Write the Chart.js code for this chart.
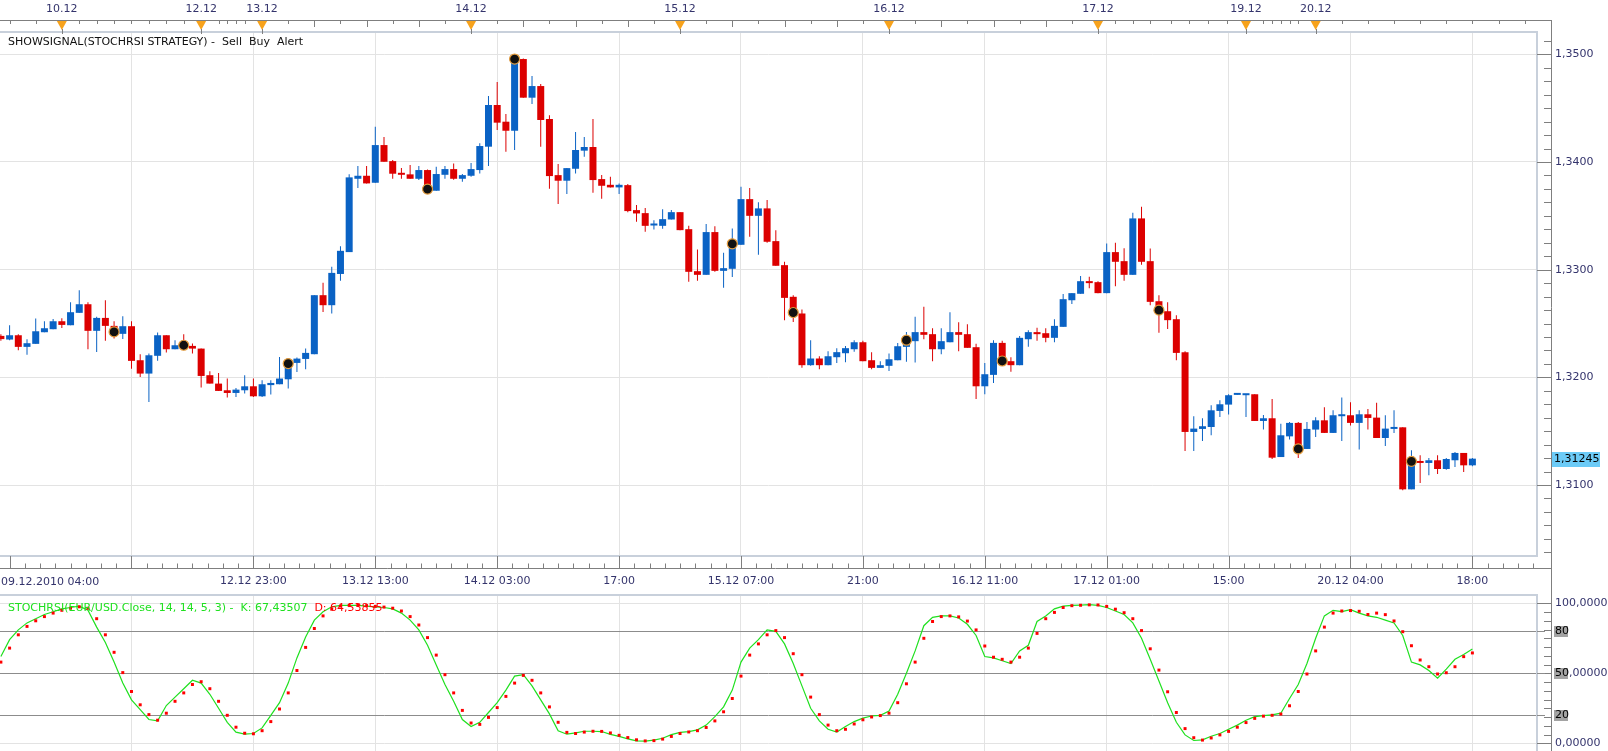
<!DOCTYPE html>
<html>
<head>
<meta charset="utf-8">
<script src="https://cdn.jsdelivr.net/npm/chart.js@4.4.1/dist/chart.umd.min.js"></script>
<style>
html, body { margin: 0; padding: 0; background: #fff; overflow: hidden; width: 1608px; height: 751px; }
#wrap { position: relative; width: 1608px; height: 751px; }
canvas { position: absolute; left: 0; }
#price { top: 0; }
#osc { top: 575px; }
</style>
</head>
<body>
<div id="wrap">
  <canvas id="price" width="1608" height="595"></canvas>
  <canvas id="osc" width="1608" height="190"></canvas>
</div>
<script>
// hourly EUR/USD candles, 170 bars, index 0 = first visible bar
var open = [
  1.32385,1.32351,1.32391,1.32283,1.32311,1.32419,1.32447,1.32521,1.32484,1.32599,
  1.32679,1.32432,1.32552,1.32478,1.32404,1.32475,1.32159,1.32035,1.32200,1.32391,
  1.32261,1.32298,1.32292,1.32267,1.32020,1.31942,1.31880,1.31855,1.31880,1.31917,
  1.31824,1.31928,1.31936,1.31982,1.32134,1.32171,1.32215,1.32763,1.32670,1.32960,
  1.33163,1.33844,1.33872,1.33807,1.34157,1.34008,1.33897,1.33885,1.33844,1.33925,
  1.33733,1.33881,1.33934,1.33844,1.33872,1.33925,1.34142,1.34529,1.34374,1.34290,
  1.34956,1.34597,1.34705,1.34399,1.33878,1.33826,1.33937,1.34105,1.34139,1.33841,
  1.33788,1.33764,1.33785,1.33553,1.33525,1.33410,1.33407,1.33466,1.33534,1.33376,
  1.32986,1.32952,1.33349,1.32989,1.33008,1.33231,1.33655,1.33500,1.33569,1.33265,
  1.33042,1.32748,1.32593,1.32113,1.32175,1.32113,1.32187,1.32224,1.32261,1.32326,
  1.32159,1.32088,1.32107,1.32159,1.32283,1.32336,1.32420,1.32401,1.32261,1.32326,
  1.32420,1.32401,1.32280,1.31917,1.32023,1.32320,1.32150,1.32113,1.32354,1.32420,
  1.32410,1.32367,1.32469,1.32716,1.32776,1.32893,1.32884,1.32782,1.33163,1.33079,
  1.32952,1.33476,1.33079,1.32707,1.32614,1.32540,1.32233,1.31493,1.31521,1.31539,
  1.31688,1.31747,1.31837,1.31834,1.31843,1.31595,1.31620,1.31260,1.31452,1.31577,
  1.31335,1.31515,1.31601,1.31484,1.31639,1.31648,1.31577,1.31657,1.31626,1.31437,
  1.31521,1.31536,1.30960,1.31218,1.31205,1.31230,1.31149,1.31230,1.31298,1.31183
];
var high = [
  1.32400,1.32484,1.32401,1.32354,1.32546,1.32521,1.32543,1.32549,1.32698,1.32809,
  1.32698,1.32562,1.32717,1.32521,1.32568,1.32521,1.32215,1.32221,1.32416,1.32391,
  1.32345,1.32401,1.32314,1.32267,1.32057,1.32041,1.31989,1.31902,1.32020,1.31989,
  1.31973,1.31973,1.32190,1.32150,1.32184,1.32267,1.32763,1.32878,1.33026,1.33218,
  1.33885,1.33962,1.33962,1.34328,1.34231,1.34018,1.33943,1.33971,1.33962,1.33931,
  1.33956,1.33962,1.33987,1.33888,1.33990,1.34173,1.34613,1.34743,1.34445,1.34978,
  1.34960,1.34798,1.34724,1.34433,1.33981,1.33943,1.34278,1.34231,1.34399,1.33878,
  1.33863,1.33801,1.33795,1.33600,1.33572,1.33460,1.33562,1.33553,1.33534,1.33407,
  1.33187,1.33423,1.33404,1.33156,1.33383,1.33770,1.33758,1.33625,1.33646,1.33367,
  1.33073,1.32763,1.32630,1.32345,1.32196,1.32243,1.32271,1.32292,1.32345,1.32339,
  1.32234,1.32150,1.32221,1.32320,1.32420,1.32562,1.32655,1.32456,1.32456,1.32605,
  1.32512,1.32494,1.32311,1.32134,1.32345,1.32339,1.32187,1.32385,1.32438,1.32460,
  1.32456,1.32540,1.32773,1.32782,1.32940,1.32934,1.32893,1.33244,1.33250,1.33200,
  1.33528,1.33584,1.33197,1.32763,1.32698,1.32577,1.32243,1.31639,1.31620,1.31741,
  1.31787,1.31843,1.31843,1.31843,1.31843,1.31651,1.31800,1.31570,1.31586,1.31586,
  1.31586,1.31629,1.31722,1.31694,1.31812,1.31769,1.31694,1.31707,1.31763,1.31648,
  1.31694,1.31536,1.31323,1.31276,1.31251,1.31276,1.31251,1.31307,1.31298,1.31251
];
var low = [
  1.32340,1.32345,1.32252,1.32209,1.32311,1.32419,1.32447,1.32459,1.32484,1.32599,
  1.32261,1.32236,1.32339,1.32360,1.32357,1.32081,1.32004,1.31770,1.32153,1.32230,
  1.32261,1.32267,1.32221,1.31905,1.31942,1.31874,1.31812,1.31818,1.31849,1.31818,
  1.31818,1.31840,1.31936,1.31896,1.32050,1.32075,1.32215,1.32608,1.32593,1.32896,
  1.33163,1.33758,1.33801,1.33807,1.34002,1.33844,1.33844,1.33844,1.33832,1.33708,
  1.33733,1.33844,1.33835,1.33816,1.33863,1.33894,1.33962,1.34297,1.34095,1.34111,
  1.34597,1.34538,1.34142,1.33751,1.33609,1.33702,1.33894,1.34049,1.33714,1.33658,
  1.33764,1.33702,1.33534,1.33445,1.33352,1.33373,1.33379,1.33466,1.33367,1.32887,
  1.32896,1.32952,1.32980,1.32831,1.32933,1.33231,1.33305,1.33138,1.33250,1.33036,
  1.32531,1.32515,1.32088,1.32107,1.32075,1.32113,1.32134,1.32141,1.32237,1.32150,
  1.32075,1.32088,1.32060,1.32159,1.32144,1.32138,1.32354,1.32150,1.32215,1.32326,
  1.32243,1.32274,1.31800,1.31843,1.31948,1.32113,1.32051,1.32113,1.32283,1.32339,
  1.32326,1.32326,1.32469,1.32680,1.32776,1.32828,1.32782,1.32782,1.32847,1.32896,
  1.32952,1.33045,1.32670,1.32413,1.32450,1.32159,1.31316,1.31316,1.31409,1.31462,
  1.31632,1.31654,1.31837,1.31632,1.31595,1.31515,1.31242,1.31260,1.31422,1.31251,
  1.31335,1.31447,1.31484,1.31484,1.31409,1.31552,1.31329,1.31515,1.31437,1.31363,
  1.31484,1.30951,1.30960,1.31019,1.31090,1.31102,1.31143,1.31168,1.31121,1.31174
];
var close = [
  1.32355,1.32391,1.32283,1.32317,1.32428,1.32456,1.32521,1.32487,1.32605,1.32679,
  1.32432,1.32552,1.32478,1.32391,1.32475,1.32153,1.32035,1.32205,1.32391,1.32261,
  1.32298,1.32285,1.32267,1.32013,1.31942,1.31874,1.31855,1.31886,1.31917,1.31824,
  1.31936,1.31948,1.31989,1.32150,1.32174,1.32227,1.32763,1.32670,1.32970,1.33175,
  1.33857,1.33872,1.33801,1.34157,1.34002,1.33891,1.33881,1.33844,1.33925,1.33785,
  1.33888,1.33934,1.33844,1.33878,1.33934,1.34148,1.34529,1.34365,1.34290,1.34953,
  1.34597,1.34705,1.34390,1.33869,1.33826,1.33943,1.34111,1.34139,1.33832,1.33779,
  1.33764,1.33788,1.33544,1.33522,1.33407,1.33420,1.33469,1.33534,1.33367,1.32980,
  1.32952,1.33349,1.32989,1.33014,1.33237,1.33655,1.33500,1.33569,1.33259,1.33036,
  1.32738,1.32593,1.32113,1.32175,1.32113,1.32196,1.32234,1.32271,1.32326,1.32150,
  1.32088,1.32113,1.32168,1.32289,1.32385,1.32420,1.32395,1.32261,1.32336,1.32420,
  1.32395,1.32274,1.31917,1.32029,1.32320,1.32144,1.32113,1.32367,1.32420,1.32401,
  1.32367,1.32478,1.32726,1.32782,1.32893,1.32875,1.32782,1.33163,1.33073,1.32952,
  1.33476,1.33073,1.32701,1.32624,1.32531,1.32227,1.31493,1.31524,1.31546,1.31694,
  1.31750,1.31834,1.31843,1.31843,1.31595,1.31620,1.31254,1.31462,1.31577,1.31307,
  1.31521,1.31601,1.31484,1.31648,1.31648,1.31577,1.31657,1.31623,1.31437,1.31524,
  1.31536,1.30960,1.31261,1.31205,1.31230,1.31149,1.31242,1.31298,1.31183,1.31245
];

// STOCHRSI(14,14,5,3): K line and D dots, one value per bar
var stochK = [
  62,74,81,86,89,92,94,96,97,98,
  95,83,72,58,43,31,24,17,16,27,
  33,39,45,43,35,25,15,8,6.5,7,
  11,20,29,43,61,76,88,94,97.5,98.5,
  98.5,98.5,98,97.5,97,96,93,88,81,70,
  56,42,30,17,12,15,22,29,38,48,
  49,41,31,21,9,6.5,7.5,8.6,8.6,8.4,
  6.4,5,3.2,1.8,1.5,2.3,3.6,6.2,7.8,8.4,
  9.6,13,19,26,38,58,68,74,81,80,
  71,57,41,25,16,10,8,12,15.5,18,
  19.5,20,23,35,50,66,84,90,91,91,
  89.5,85,77,62,61,59,57,66,70,87,
  91,96,98,98.5,98.7,99,98.5,97,94.5,92,
  86,75,60,44.5,29,15,6,2,2.5,5,
  7,10,13,16.5,19,19.8,20.3,21.5,32,42,
  57,75,91,95,94,95.5,93,91,90,88,
  86,77,58,56,52,46.5,53,60,63.5,67.43507
];
var stochD = [
  58,68,77.5,83.5,87.5,90.5,93,95,96.5,97.5,
  96.5,89,77.5,65,50.5,37,27.5,20.5,16.5,21.5,
  30,36,42,44,39,30,20,11.5,7.2,6.8,
  9,15.5,24.5,36,52,68.5,82,91,95.8,98,
  98.5,98.5,98.3,97.8,97.3,96.5,94.5,90.5,84.5,75.5,
  63,49,36,23.5,14.5,13.5,18.5,25.5,33.5,43,
  48.5,45,36,26,15,7.8,7,8,8.6,8.5,
  7.4,5.7,4.1,2.5,1.7,1.9,3,4.9,7,8.1,
  9,11.3,16,22.5,32,48,63,71,77.5,80.5,
  75.5,64,49,33,20.5,13,9,10,13.8,16.8,
  18.8,19.8,21.5,29,42.5,58,75,87,90.5,91,
  90.3,87.3,81,69.5,61.5,60,58,61.5,68,78.5,
  89,93.5,97,98.3,98.6,98.9,98.8,97.8,95.8,93.3,
  89,80.5,67.5,52.3,36.8,22,10.5,4,2.3,3.8,
  6,8.5,11.5,14.8,17.8,19.4,20,20.9,26.8,37,
  49.5,66,83,93,94.5,94.8,94.3,92,93,91.9,
  87.4,79.7,69.7,59.5,54.7,49.5,50.4,54.7,61.9,64.53855
];

// strategy signals (bar index, price)
var signalIdx = [13, 21, 33, 49, 59, 84, 91, 104, 115, 133, 149, 162];
var signalPrice = [1.32422, 1.32298, 1.32128, 1.33748, 1.34956, 1.33240, 1.32602, 1.32345, 1.32152, 1.32624, 1.31335, 1.31220];

// axes
var xTickIdx = [15, 29, 43, 57, 71, 85, 99, 113, 127, 141, 155, 169];
var xTickLabels = ['', '12.12 23:00', '13.12 13:00', '14.12 03:00', '17:00', '15.12 07:00', '21:00', '16.12 11:00', '17.12 01:00', '15:00', '20.12 04:00', '18:00'];
var firstTimeLabel = '09.12.2010 04:00';
var dayIdx = [7, 23, 30, 54, 78, 102, 126, 143, 151];
var dayLabels = ['10.12', '12.12', '13.12', '14.12', '15.12', '16.12', '17.12', '19.12', '20.12'];
var topTicks = [1, 4, 7, 9, 11, 13, 15, 17, 19, 21, 23, 25, 26, 27, 28, 30, 33, 36, 39, 42, 45, 48, 51, 54, 57, 60,
  63, 66, 69, 72, 75, 78, 81, 84, 87, 90, 93, 96, 99, 102, 105, 108, 111, 114, 117, 120, 123, 126,
  128, 130, 132, 134.4, 136.5, 138.6, 140.8, 143, 145, 146, 147, 148, 149, 151, 154, 157, 160, 163, 166, 169, 172, 175, 178];
var priceTicks = [1.31, 1.32, 1.33, 1.34, 1.35];
var oscTicks = [0, 20, 50, 80, 100];
var oscTickLabels = ['0,00000', '', '50,00000', '', '100,00000'];
var oscLevels = [80, 50, 20];

var TITLE_PRICE = 'SHOWSIGNAL(STOCHRSI STRATEGY) -  Sell  Buy  Alert';
var TITLE_OSC = 'STOCHRSI(EUR/USD.Close, 14, 14, 5, 3) -  K: 67,43507  ';
var TITLE_OSC_D = 'D: 64,53855';

var X_MIN = -0.102, X_MAX = 176.42;
var AXIS_X = 1551;
var TXT = '#34346c';
var FONT = '11px "DejaVu Sans"';
var UP = '#0a62c4', DOWN = '#dc0000';

Chart.defaults.font.family = 'DejaVu Sans';
Chart.defaults.font.size = 11;
Chart.defaults.color = TXT;

var idx = close.map(function (c, i) { return i; });
var colors = close.map(function (c, i) { return c >= open[i] ? UP : DOWN; });

function line(c, x1, y1, x2, y2) {
  c.beginPath(); c.moveTo(x1, y1); c.lineTo(x2, y2); c.stroke();
}

var decorPrice = {
  id: 'decorPrice',
  beforeDraw: function (chart) {
    var c = chart.ctx;
    c.save(); c.fillStyle = '#fff'; c.fillRect(0, 0, chart.width, chart.height); c.restore();
  },
  afterDraw: function (chart) {
    var c = chart.ctx, a = chart.chartArea, xs = chart.scales.x, ys = chart.scales.y;
    c.save();
    // panel frame (top, right, bottom)
    c.strokeStyle = '#c8d0db'; c.lineWidth = 2;
    c.beginPath();
    c.moveTo(a.left, a.top); c.lineTo(a.right, a.top); c.lineTo(a.right, a.bottom); c.lineTo(a.left, a.bottom);
    c.stroke();

    c.strokeStyle = '#7f7f7f'; c.lineWidth = 1;
    // top time axis
    line(c, 0, 20.5, AXIS_X + 1, 20.5);
    topTicks.forEach(function (t) {
      var x = Math.round(xs.getPixelForValue(t)) + 0.5;
      line(c, x, 20, x, (t >= 30 && t <= 126 && t % 6 === 0) ? 27 : 24);
    });
    // right price axis
    line(c, AXIS_X + 0.5, 20, AXIS_X + 0.5, chart.height);
    for (var k = 3; k <= 41; k++) {
      var y = Math.round(ys.getPixelForValue(1.30 + k * 0.00125)) + 0.5;
      line(c, k % 8 === 0 ? a.right : AXIS_X - 7, y, AXIS_X, y);
    }
    // bottom time axis
    var yb = 568.5;
    line(c, 0, yb, AXIS_X, yb);
    for (var m = -8; 15 + m * 1.75 <= X_MAX + 1; m++) {
      var x = Math.round(xs.getPixelForValue(15 + m * 1.75)) + 0.5;
      if (x < 0 || x > AXIS_X) continue;
      line(c, x, m % 8 === 0 ? a.bottom : yb - 5, x, yb);
    }
    // day markers
    c.font = FONT; c.textBaseline = 'middle';
    dayIdx.forEach(function (d, j) {
      var x = xs.getPixelForValue(d);
      c.fillStyle = '#f7a21b';
      c.beginPath(); c.moveTo(x - 5, 21); c.lineTo(x + 5, 21); c.lineTo(x, 30); c.closePath(); c.fill();
      c.strokeStyle = '#7f7f7f';
      line(c, Math.round(x) + 0.5, 29, Math.round(x) + 0.5, 34);
      c.fillStyle = TXT; c.textAlign = 'center';
      c.fillText(dayLabels[j], x, 9.5);
    });
    c.textAlign = 'left';
    c.fillStyle = '#111';
    c.fillText(TITLE_PRICE, 8, 42);
    c.fillStyle = TXT;
    c.fillText(firstTimeLabel, 1, 582);
    // last price box
    var lp = close[close.length - 1], yp = ys.getPixelForValue(lp);
    c.fillStyle = '#6ccbf7';
    c.fillRect(AXIS_X + 1, Math.round(yp) - 7, 48, 15);
    c.fillStyle = '#000';
    c.fillText(lp.toFixed(5).replace('.', ','), AXIS_X + 3, yp + 0.5);
    c.restore();
  }
};

var decorOsc = {
  id: 'decorOsc',
  afterDraw: function (chart) {
    var c = chart.ctx, a = chart.chartArea, ys = chart.scales.y;
    c.save();
    c.strokeStyle = '#c8d0db'; c.lineWidth = 2;
    line(c, a.left, a.top, a.right + 1, a.top);
    line(c, a.right, a.top, a.right, chart.height);

    c.strokeStyle = '#7f7f7f'; c.lineWidth = 1;
    line(c, AXIS_X + 0.5, 0, AXIS_X + 0.5, chart.height);
    for (var k = 0; k <= 16; k++) {
      var y = Math.round(ys.getPixelForValue(k * 6.25)) + 0.5;
      line(c, k % 8 === 0 ? a.right : AXIS_X - 7, y, AXIS_X, y);
    }
    c.font = FONT; c.textBaseline = 'middle'; c.textAlign = 'left';
    oscLevels.forEach(function (v) {
      var y = Math.round(ys.getPixelForValue(v)) + 0.5;
      c.strokeStyle = '#8c8c8c';
      line(c, a.right, y, AXIS_X - 6, y);
      c.fillStyle = '#a3a3a3';
      c.fillRect(AXIS_X + 3, y - 5.5, 14, 11);
      c.fillStyle = '#000';
      c.fillText(String(v), AXIS_X + 4, y);
    });
    c.fillStyle = '#1fe01f';
    c.fillText(TITLE_OSC, 8, a.top + 13);
    var w = c.measureText(TITLE_OSC).width;
    c.fillStyle = '#ff0000';
    c.fillText(TITLE_OSC_D, 8 + w, a.top + 13);
    c.restore();
  }
};

new Chart(document.getElementById('price'), {
  type: 'bar',
  data: {
    datasets: [
      {
        label: 'wick',
        data: idx.map(function (i) { return { x: i, y: [low[i], high[i]] }; }),
        backgroundColor: colors,
        grouped: false, maxBarThickness: 1, barPercentage: 1, categoryPercentage: 1,
        inflateAmount: 0, order: 2
      },
      {
        label: 'body',
        data: idx.map(function (i) { return { x: i, y: [open[i], close[i]] }; }),
        backgroundColor: colors,
        grouped: false, maxBarThickness: 7, barPercentage: 1, categoryPercentage: 1,
        minBarLength: 2, inflateAmount: 0, order: 1
      },
      {
        type: 'scatter',
        label: 'signal',
        data: signalIdx.map(function (s, k) { return { x: s, y: signalPrice[k] }; }),
        pointStyle: 'circle', pointRadius: 5,
        backgroundColor: '#111', borderColor: '#e39b3c', borderWidth: 1.2,
        clip: false, order: 0
      }
    ]
  },
  options: {
    responsive: false, animation: false, devicePixelRatio: 1, events: [],
    layout: { autoPadding: false, padding: { top: 32, left: 0, right: 0, bottom: 0 } },
    plugins: { legend: { display: false }, tooltip: { enabled: false } },
    scales: {
      x: {
        type: 'linear', min: X_MIN, max: X_MAX, offset: false,
        grid: { offset: false, color: '#e3e3e3', drawTicks: false },
        border: { display: false },
        afterBuildTicks: function (s) { s.ticks = xTickIdx.map(function (v) { return { value: v }; }); },
        ticks: {
          autoSkip: false, maxRotation: 0, padding: 19, color: TXT,
          callback: function (v, k) { return xTickLabels[k]; }
        },
        afterFit: function (s) { s.height = 39; }
      },
      y: {
        position: 'right', min: 1.30341, max: 1.35207,
        grid: { color: '#e3e3e3', drawTicks: true, tickLength: 18, tickColor: 'rgba(0,0,0,0)' },
        border: { display: false },
        afterBuildTicks: function (s) { s.ticks = priceTicks.map(function (v) { return { value: v }; }); },
        ticks: {
          padding: 0, color: TXT,
          callback: function (v) { return v.toFixed(4).replace('.', ','); }
        },
        afterFit: function (s) { s.width = 71; }
      }
    }
  },
  plugins: [decorPrice]
});

new Chart(document.getElementById('osc'), {
  type: 'line',
  data: {
    datasets: [
      {
        label: 'K',
        data: idx.map(function (i) { return { x: i, y: stochK[i] }; }),
        borderColor: '#1fe01f', borderWidth: 1.2, pointRadius: 0, tension: 0, fill: false,
        order: 1
      },
      {
        type: 'scatter',
        label: 'D',
        data: idx.map(function (i) { return { x: i, y: stochD[i] }; }),
        pointStyle: 'rect', pointRadius: 2.1, backgroundColor: '#ff0000', borderWidth: 0,
        order: 0
      }
    ]
  },
  options: {
    responsive: false, animation: false, devicePixelRatio: 1, events: [],
    layout: { autoPadding: false, padding: { top: 20, left: 0, right: 0, bottom: 14 } },
    plugins: { legend: { display: false }, tooltip: { enabled: false } },
    scales: {
      x: {
        type: 'linear', min: X_MIN, max: X_MAX, offset: false,
        grid: { color: '#e3e3e3', drawTicks: false },
        border: { display: false },
        afterBuildTicks: function (s) { s.ticks = xTickIdx.map(function (v) { return { value: v }; }); },
        ticks: { display: false },
        afterFit: function (s) { s.height = 0; }
      },
      y: {
        position: 'right', min: -5.5, max: 105.93,
        grid: {
          color: function (ctx) { return oscLevels.indexOf(ctx.tick.value) >= 0 ? '#8c8c8c' : '#e3e3e3'; },
          drawTicks: true, tickLength: 18, tickColor: 'rgba(0,0,0,0)'
        },
        border: { display: false },
        afterBuildTicks: function (s) { s.ticks = oscTicks.map(function (v) { return { value: v }; }); },
        ticks: {
          padding: 0, color: TXT,
          callback: function (v) { return oscTickLabels[oscTicks.indexOf(v)]; }
        },
        afterFit: function (s) { s.width = 71; }
      }
    }
  },
  plugins: [decorOsc]
});
</script>
</body>
</html>
